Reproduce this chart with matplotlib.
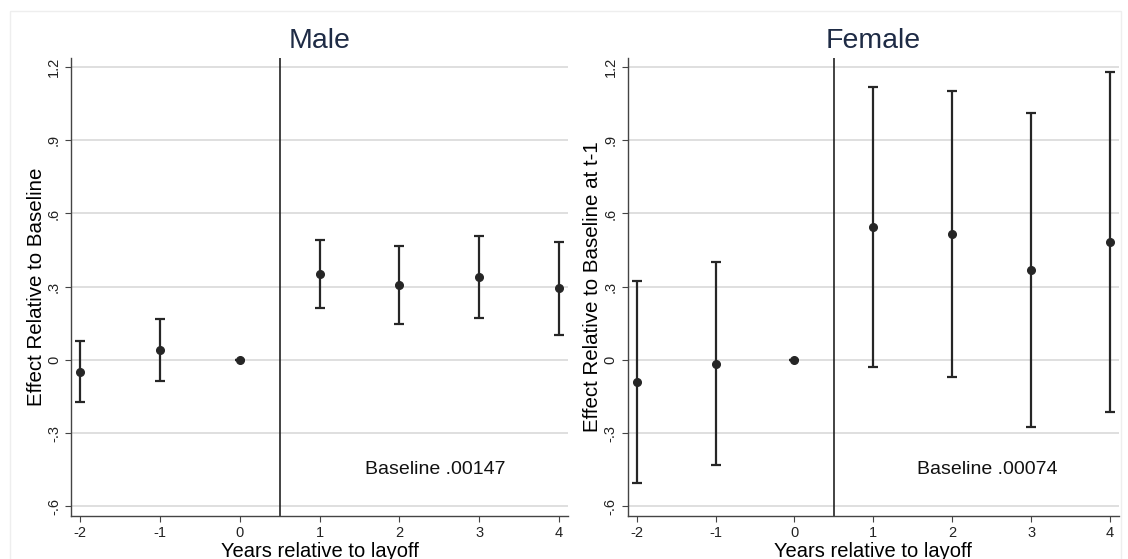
import matplotlib
matplotlib.use("Agg")
import matplotlib.pyplot as plt
from matplotlib.patches import Rectangle

plt.rcParams['font.family'] = ['Liberation Sans', 'DejaVu Sans']
plt.rcParams['axes.unicode_minus'] = False

years = [-2, -1, 0, 1, 2, 3, 4]

# male estimates and 95% CI
male_est = [-0.048, 0.039, 0.0, 0.351, 0.306, 0.338, 0.295]
male_lo = [-0.174, -0.088, 0.0, 0.213, 0.146, 0.171, 0.104]
male_hi = [0.078, 0.168, 0.0, 0.490, 0.467, 0.506, 0.483]

# female estimates and 95% CI
female_est = [-0.089, -0.016, 0.0, 0.543, 0.514, 0.367, 0.484]
female_lo = [-0.503, -0.430, 0.0, -0.028, -0.070, -0.275, -0.211]
female_hi = [0.325, 0.401, 0.0, 1.118, 1.100, 1.011, 1.181]

yticks = [-0.6, -0.3, 0, 0.3, 0.6, 0.9, 1.2]
ytick_labels = ['-.6', '-.3', '0', '.3', '.6', '.9', '1.2']

panels = [
    ("Male", male_est, male_lo, male_hi, "Effect Relative to Baseline", "Baseline .00147",
     [0.0633, 0.0769, 0.440, 0.819]),
    ("Female", female_est, female_lo, female_hi, "Effect Relative to Baseline at t-1", "Baseline .00074",
     [0.5567, 0.0769, 0.435, 0.819]),
]

fig = plt.figure(figsize=(11.28, 5.59), dpi=100)
fig.patches.append(Rectangle((0.009, -0.01), 0.985, 0.99, transform=fig.transFigure,
                             fill=False, edgecolor='#eeeeee', lw=1))

col = '#262626'
for title, est, lo, hi, ylab, note, pos in panels:
    ax = fig.add_axes(pos)
    err = [[e - l for e, l in zip(est, lo)], [h - e for e, h in zip(est, hi)]]
    ax.errorbar(years, est, yerr=err, fmt='o', color=col, ms=5.5, elinewidth=1.6,
                capsize=3.5, capthick=1.6, zorder=3)
    ax.axvline(0.5, color='#222222', lw=1.2, zorder=2)
    ax.set_xlim(-2.11, 4.11)
    ax.set_ylim(-0.639, 1.236)
    ax.set_yticks(yticks)
    ax.set_yticklabels(ytick_labels, rotation=90, va='center')
    ax.set_xticks(years)
    ax.grid(axis='y', color='#d9d9d9', lw=1.2, zorder=0)
    ax.set_axisbelow(True)
    for s in ['top', 'right']:
        ax.spines[s].set_visible(False)
    for s in ['left', 'bottom']:
        ax.spines[s].set_color('#444444')
        ax.spines[s].set_linewidth(1.0)
    ax.tick_params(axis='both', labelsize=10.5, length=4, color='#444444', labelcolor='#222222')
    ax.set_title(title, fontsize=20.5, color='#1e2b45', pad=7)
    ax.set_ylabel(ylab, fontsize=14.8, labelpad=1)
    ax.set_xlabel("Years relative to layoff", fontsize=14.5, labelpad=1)
    ax.text(2.45, -0.45, note, fontsize=14, ha='center', va='center', color='#111111')

fig.savefig("out.png", dpi=100)
